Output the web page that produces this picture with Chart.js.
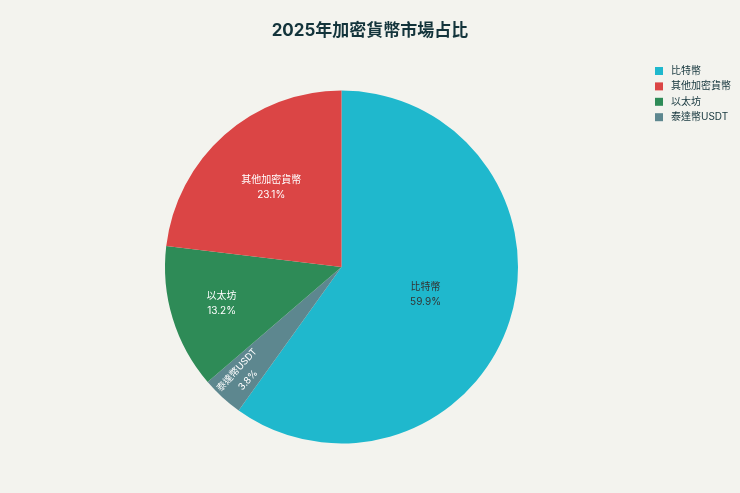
<!DOCTYPE html>
<html>
<head>
<meta charset="utf-8">
<script src="https://cdn.jsdelivr.net/npm/chart.js@4"></script>
<style>
html,body{margin:0;padding:0;background:#F3F3EE;}
#wrap{width:740px;height:493px;position:relative;}
</style>
</head>
<body>
<div id="wrap"><canvas id="c" width="740" height="493"></canvas></div>
<script>
const titleText = "2025年加密貨幣市場占比";
const categories = ["比特幣", "泰達幣USDT", "以太坊", "其他加密貨幣"];
const shares = [59.9, 3.8, 13.2, 23.1];
const colors = ["#1FB8CD", "#5D878F", "#2E8B57", "#DB4545"];

const FONT = "Inter, 'Noto Sans CJK TC', 'Noto Sans', sans-serif";
const labelStyle = [
  {rf: 0.50, color: "#333333", rotate: false, size: 10},
  {rf: 0.83, color: "#FFFFFF", rotate: true, size: 9.5},
  {rf: 0.71, color: "#FFFFFF", rotate: false, size: 10},
  {rf: 0.60, color: "#FFFFFF", rotate: false, size: 10}
];

const sliceLabels = {
  id: 'sliceLabels',
  afterDatasetsDraw(chart) {
    const ctx = chart.ctx;
    const meta = chart.getDatasetMeta(0);
    meta.data.forEach((arc, i) => {
      const st = labelStyle[i];
      const mid = (arc.startAngle + arc.endAngle) / 2;
      const r = arc.outerRadius * st.rf;
      const x = arc.x + Math.cos(mid) * r;
      const y = arc.y + Math.sin(mid) * r;
      ctx.save();
      ctx.translate(x, y);
      if (st.rotate) ctx.rotate(mid - Math.PI);
      ctx.fillStyle = st.color;
      ctx.font = st.size + "px " + FONT;
      ctx.textAlign = "center";
      ctx.textBaseline = "middle";
      ctx.fillText(categories[i], 0, -7.5);
      ctx.fillText(shares[i].toFixed(1) + "%", 0, 7.5);
      ctx.restore();
    });
  }
};

const titleAndLegend = {
  id: 'titleAndLegend',
  afterDraw(chart) {
    const ctx = chart.ctx;
    ctx.save();
    ctx.font = "bold 17px " + FONT;
    ctx.fillStyle = "#13343B";
    ctx.textAlign = "center";
    ctx.textBaseline = "middle";
    ctx.fillText(titleText, chart.width / 2, 31);

    const order = categories.map((c, i) => i).sort((a, b) => shares[b] - shares[a]);
    ctx.font = "10px " + FONT;
    ctx.textBaseline = "middle";
    ctx.textAlign = "left";
    order.forEach((idx, row) => {
      const y = 71 + row * 15.4;
      ctx.fillStyle = colors[idx];
      ctx.fillRect(655, y - 4, 8, 8);
      ctx.fillStyle = "#13343B";
      ctx.fillText(categories[idx], 671, y);
    });
    ctx.restore();
  }
};

new Chart(document.getElementById('c'), {
  type: 'pie',
  data: {
    labels: categories,
    datasets: [{
      data: shares,
      backgroundColor: colors,
      borderWidth: 0
    }]
  },
  options: {
    responsive: false,
    animation: false,
    layout: {padding: {left: 141.5, right: 198.5, top: 90.5, bottom: 49.5}},
    plugins: {
      legend: {display: false},
      tooltip: {enabled: false},
      title: {display: false}
    }
  },
  plugins: [sliceLabels, titleAndLegend]
});
</script>
</body>
</html>
